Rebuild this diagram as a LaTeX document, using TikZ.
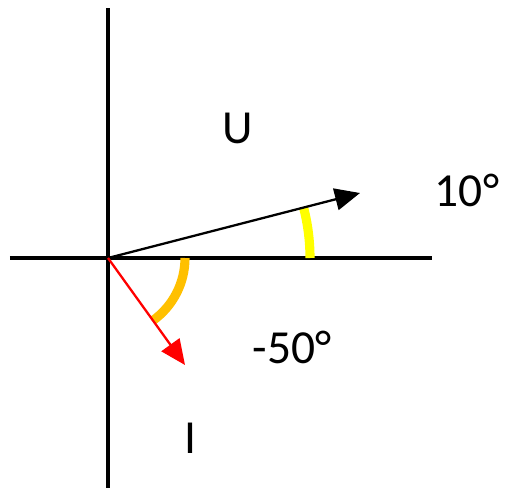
\documentclass[tikz,border=0pt]{standalone}
\usepackage{fontspec}
\setmainfont{Carlito}
\usetikzlibrary{arrows.meta}
\definecolor{arcyellow}{RGB}{255,255,0}
\definecolor{arcorange}{RGB}{255,192,0}
\tikzset{
  axis/.style={draw=black,line width=2pt},
  phasor/.style={-{Triangle[length=0.5cm,width=0.44cm]},line width=1.3pt},
  anglearc/.style={line width=5.2pt},
  lab/.style={font=\fontsize{27}{32}\selectfont,inner sep=0pt}
}
\begin{document}
\begin{tikzpicture}[x=0.02cm,y=0.02cm]
\useasboundingbox (-108,-230) rectangle (397,258);
% axes
\coordinate (O) at (0,0);
\coordinate (xl) at (-98,0); \coordinate (xr) at (324,0);
\coordinate (yb) at (0,-230); \coordinate (yt) at (0,250);
\draw[axis] (xl) -- (xr);
\draw[axis] (yb) -- (yt);
% phasor ends
\coordinate (uend) at (252,65);
\coordinate (iend) at (77,-107);
% angle arcs
\draw[anglearc,draw=arcyellow] (202,0) arc[start angle=0,end angle=14.5,radius=202];
\draw[anglearc,draw=arcorange] (77,0) arc[start angle=0,end angle=-54.3,radius=77];
\draw[phasor] (O) -- (uend);
\draw[phasor,red] (O) -- (iend);
\node[lab] (ulab) at (130,130) {U};
\node[lab] (uang) at (359,68) {10°};
\node[lab] (iang) at (184,-89) {-50°};
\node[lab] (ilab) at (82,-180) {I};
\end{tikzpicture}
\end{document}
